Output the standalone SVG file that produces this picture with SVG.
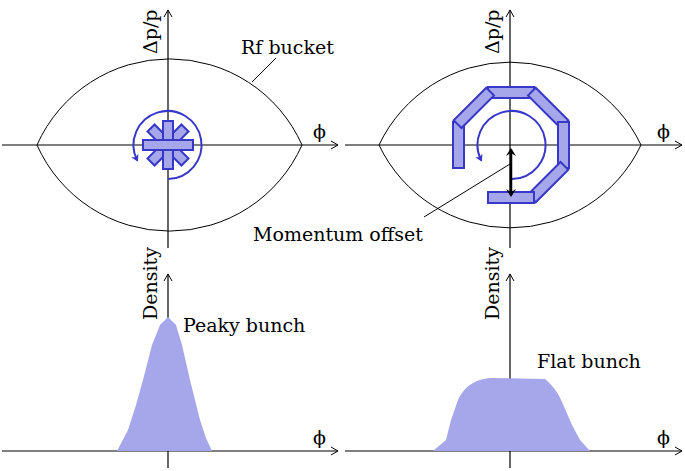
<svg xmlns="http://www.w3.org/2000/svg" width="685" height="471" viewBox="0 0 685 471">
<style>
.ax{stroke:#000;stroke-width:1.2;fill:none}
.bk{stroke:#000;stroke-width:1;fill:none}
.bar{fill:#a6a6ea;stroke:#3838c8;stroke-width:2}
.arc{fill:none;stroke:#3838c8;stroke-width:2}
.t{font-family:"DejaVu Serif","Liberation Serif",serif;font-size:19px;fill:#000}
.dist{fill:#a6a6ea;stroke:none}
</style>
<defs>
<marker id="ba" markerWidth="8" markerHeight="8" refX="5" refY="4" orient="auto" markerUnits="userSpaceOnUse"><path d="M0,0 L7,4 L0,8 L2,4 Z" fill="#3838c8"/></marker>
<marker id="kh" markerWidth="10" markerHeight="10" refX="6" refY="5" orient="auto-start-reverse" markerUnits="userSpaceOnUse"><path d="M0,0 L8,5 L0,10 L3,5 Z" fill="#000"/></marker>
<marker id="ox" markerWidth="10" markerHeight="10" refX="8" refY="5" orient="auto" markerUnits="userSpaceOnUse"><path d="M1,1 L8,5 L1,9" fill="none" stroke="#000" stroke-width="1"/></marker>
</defs>
<g id="axes">
<line class="ax" x1="168" y1="248" x2="168" y2="10" marker-end="url(#ox)"/>
<line class="ax" x1="2" y1="145" x2="338" y2="145" marker-end="url(#ox)"/>
<line class="ax" x1="510" y1="248" x2="510" y2="10" marker-end="url(#ox)"/>
<line class="ax" x1="345" y1="145" x2="682" y2="145" marker-end="url(#ox)"/>
<line class="ax" x1="168" y1="468" x2="168" y2="274" marker-end="url(#ox)"/>
<line class="ax" x1="2" y1="451" x2="338" y2="451" marker-end="url(#ox)"/>
<line class="ax" x1="510" y1="468" x2="510" y2="274" marker-end="url(#ox)"/>
<line class="ax" x1="345" y1="451" x2="682" y2="451" marker-end="url(#ox)"/>
</g>
<g id="bucket-left"><path class="bk" d="M37,145 A145,145 0 0 1 302,145 A145,145 0 0 1 37,145 Z"/></g>
<g id="bucket-right"><path class="bk" d="M379,145 A145,145 0 0 1 641,145 A145,145 0 0 1 379,145 Z"/></g>
<g id="star">
<rect class="bar" x="144" y="140" width="48" height="10" transform="rotate(45 168 145)"/>
<rect class="bar" x="144" y="140" width="48" height="10" transform="rotate(135 168 145)"/>
<rect class="bar" x="144" y="140" width="48" height="10" transform="rotate(90 168 145)"/>
<rect class="bar" x="143" y="140" width="50" height="10"/>
<path class="arc" d="M168,179 A34,34 0 1 0 137,160" marker-end="url(#ba)"/>
</g>
<g id="octagon">
<rect class="bar" x="488" y="87" width="46" height="11" transform="rotate(0 511 145)"/>
<rect class="bar" x="488" y="87" width="46" height="11" transform="rotate(45 511 145)"/>
<rect class="bar" x="488" y="87" width="46" height="11" transform="rotate(90 511 145)"/>
<rect class="bar" x="488" y="87" width="46" height="11" transform="rotate(135 511 145)"/>
<rect class="bar" x="488" y="87" width="46" height="11" transform="rotate(180 511 145)"/>
<rect class="bar" x="488" y="87" width="46" height="11" transform="rotate(270 511 145)"/>
<rect class="bar" x="488" y="87" width="46" height="11" transform="rotate(315 511 145)"/>
<path class="arc" d="M512,179 A34,34 0 1 0 481,160" marker-end="url(#ba)"/>
</g>
<g id="connectors">
<line x1="511" y1="150" x2="511" y2="195" stroke="#000" stroke-width="2.5" marker-start="url(#kh)" marker-end="url(#kh)"/>
<line x1="424" y1="217" x2="510" y2="164" stroke="#000" stroke-width="1"/>
<line x1="276" y1="58" x2="252" y2="82" stroke="#000" stroke-width="1"/>
</g>
<g id="dist-left"><path class="dist" d="M117,451 L128,430 L136,405 L143,380 L152,345 L160,325 L168,317 L176,325 L182,345 L190,380 L200,420 L206,438 L212,451 Z"/></g>
<g id="dist-right"><path class="dist" d="M433,451 L446,440 L451,420 L458,400 C464,388 472,380 490,378 L545,379 C552,385 558,392 562,402 L572,425 L580,440 L590,451 Z"/></g>
<g id="labels">
<text class="t" x="241" y="54">Rf bucket</text>
<text class="t" transform="translate(157 54) rotate(-90)">Δp/p</text>
<text class="t" transform="translate(499 54) rotate(-90)">Δp/p</text>
<text class="t" x="313" y="138">ϕ</text>
<text class="t" x="657" y="138">ϕ</text>
<text class="t" x="253" y="241">Momentum offset</text>
<text class="t" transform="translate(157 320) rotate(-90)">Density</text>
<text class="t" transform="translate(499 320) rotate(-90)">Density</text>
<text class="t" x="183" y="332">Peaky bunch</text>
<text class="t" x="537" y="368">Flat bunch</text>
<text class="t" x="313" y="444">ϕ</text>
<text class="t" x="657" y="444">ϕ</text>
</g>
</svg>
